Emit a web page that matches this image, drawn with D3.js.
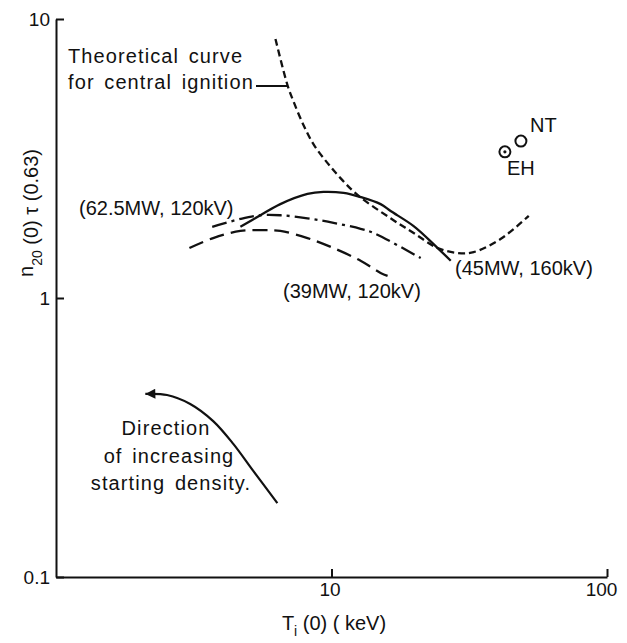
<!DOCTYPE html>
<html>
<head>
<meta charset="utf-8">
<script src="https://cdn.jsdelivr.net/npm/d3@7"></script>
<style>
  html, body { margin: 0; padding: 0; background: #fff; }
  svg { display: block; font-family: "Liberation Sans", Arial, sans-serif; }
  text { fill: #111; }
</style>
</head>
<body>
<svg id="chart" width="627" height="643"></svg>
<script>
// ---- data ----
const xTickValues = [10, 100];
const xTickLabels = ["10", "100"];
const yTickValues = [0.1, 1, 10];
const yTickLabels = ["0.1", "1", "10"];

// Theoretical curve for central ignition (short dashes)
const theoryT = [6.26, 6.92, 7.27, 7.91, 8.60, 9.66, 10.78, 12.43, 16.39, 19.87, 24.29, 28.7, 32.8, 41.2, 52.0];
const theoryN = [8.48, 5.80, 5.08, 4.17, 3.56, 3.05, 2.69, 2.34, 1.93, 1.71, 1.51, 1.45, 1.46, 1.63, 1.97];

// (45MW, 160kV) solid
const s45T = [4.67, 5.52, 6.52, 8.18, 9.35, 11.06, 12.75, 15.07, 16.39, 19.87, 24.29, 27.09];
const s45N = [1.80, 1.98, 2.17, 2.36, 2.40, 2.38, 2.30, 2.17, 2.05, 1.81, 1.51, 1.36];

// (62.5MW, 120kV) dash-dot
const s62T = [3.69, 4.67, 5.52, 6.52, 8.18, 10.17, 12.75, 14.22, 21.07];
const s62N = [1.80, 1.92, 1.98, 1.98, 1.93, 1.86, 1.77, 1.71, 1.39];

// (39MW, 120kV) long dashes
const s39T = [3.05, 3.72, 4.67, 5.66, 6.52, 8.18, 10.17, 12.75, 15.07, 15.98];
const s39N = [1.51, 1.64, 1.74, 1.75, 1.74, 1.64, 1.51, 1.36, 1.23, 1.20];

// Direction arrow (from start to tip)
const arrowT = [6.36, 5.20, 4.40, 3.72, 3.07, 2.53, 2.11];
const arrowN = [0.184, 0.240, 0.300, 0.362, 0.417, 0.449, 0.453];

// Experimental points
const pointNames = ["EH", "NT"];
const pointT = [42.6, 48.7];
const pointN = [3.34, 3.65];

// ---- layout ----
const svg = d3.select("#chart");
const margin = {left: 56, top: 19, right: 20, bottom: 66};
const W = 627, H = 643;
const x = d3.scaleLog().domain([1, 100]).range([margin.left, W - margin.right]);
const y = d3.scaleLog().domain([0.1, 10]).range([H - margin.bottom, margin.top]);

const ink = "#111";

// axes
const xAxis = d3.axisBottom(x).tickValues(xTickValues)
  .tickFormat((d, i) => xTickLabels[i]).tickSizeInner(-8).tickSizeOuter(0).tickPadding(6);
const yAxis = d3.axisLeft(y).tickValues(yTickValues)
  .tickFormat((d, i) => yTickLabels[i]).tickSizeInner(-8).tickSizeOuter(0).tickPadding(6);

const gx = svg.append("g").attr("transform", `translate(0,${y(0.1)})`).call(xAxis);
const gy = svg.append("g").attr("transform", `translate(${x(1)},0)`).call(yAxis);
[gx, gy].forEach(g => {
  g.select(".domain").attr("stroke", ink).attr("stroke-width", 2);
  g.selectAll(".tick line").attr("stroke", ink).attr("stroke-width", 2);
  g.selectAll(".tick text").attr("font-size", 19).attr("fill", ink)
    .attr("font-family", '"Liberation Sans", Arial, sans-serif');
});
gy.selectAll(".tick text").attr("dy", "0.36em");
gx.selectAll(".tick text").attr("dx", d => d === 100 ? -6 : -2);

// lines
const line = d3.line().x(d => x(d[0])).y(d => y(d[1])).curve(d3.curveCatmullRom.alpha(0.5));
const zip = (a, b) => a.map((v, i) => [v, b[i]]);

function drawCurve(T, N, dash) {
  svg.append("path").datum(zip(T, N))
    .attr("d", line).attr("fill", "none").attr("stroke", ink)
    .attr("stroke-width", 2.3).attr("stroke-dasharray", dash);
}
drawCurve(theoryT, theoryN, "7,4");
drawCurve(s45T, s45N, null);
drawCurve(s62T, s62N, "15,5,3,5");
drawCurve(s39T, s39N, "15,7");

// arrow
const defs = svg.append("defs");
defs.append("marker").attr("id", "ah").attr("viewBox", "0 0 10 10")
  .attr("refX", 10).attr("refY", 5).attr("markerUnits", "userSpaceOnUse")
  .attr("markerWidth", 19).attr("markerHeight", 10).attr("orient", "auto")
  .append("path").attr("d", "M0,0 L10,5 L0,10 z").attr("fill", ink);
svg.append("path").datum(zip(arrowT, arrowN))
  .attr("d", line).attr("fill", "none").attr("stroke", ink)
  .attr("stroke-width", 2.2).attr("marker-end", "url(#ah)");

// points
svg.append("circle").attr("cx", x(pointT[0])).attr("cy", y(pointN[0])).attr("r", 5.5)
  .attr("fill", "none").attr("stroke", ink).attr("stroke-width", 2);
svg.append("circle").attr("cx", x(pointT[0])).attr("cy", y(pointN[0])).attr("r", 1.6).attr("fill", ink);
svg.append("circle").attr("cx", x(pointT[1])).attr("cy", y(pointN[1])).attr("r", 5.5)
  .attr("fill", "none").attr("stroke", ink).attr("stroke-width", 2);

// text helper
function label(txt, px, py, anchor, spaced) {
  const t = svg.append("text").attr("x", px).attr("y", py)
    .attr("text-anchor", anchor || "start").attr("font-size", 20).text(txt);
  if (spaced) t.attr("letter-spacing", 1.1).attr("word-spacing", 3);
  return t;
}
label("Theoretical curve", 68, 63, "start", true);
label("for central ignition", 68, 89, "start", true);
svg.append("line").attr("x1", 256).attr("x2", 287).attr("y1", 86).attr("y2", 86)
  .attr("stroke", ink).attr("stroke-width", 2);
label("(62.5MW, 120kV)", 79, 215);
label("(39MW, 120kV)", 283, 298);
label("(45MW, 160kV)", 455, 275);
label(pointNames[1], 530, 132);
label(pointNames[0], 507, 175);
label("Direction", 166, 435, "middle", true);
label("of increasing", 169, 463, "middle", true);
label("starting density.", 171, 490, "middle", true);

// axis titles
const xt = svg.append("text").attr("x", 334).attr("y", 630).attr("text-anchor", "middle").attr("font-size", 20);
xt.append("tspan").text("T");
xt.append("tspan").attr("font-size", 14).attr("dy", 6).text("i");
xt.append("tspan").attr("dy", -6).text(" (0) ( keV)");

const yt = svg.append("text").attr("transform", "translate(38,213) rotate(-90)")
  .attr("text-anchor", "middle").attr("font-size", 20);
yt.append("tspan").attr("dy", -5).text("n");
yt.append("tspan").attr("font-size", 14).attr("dy", 9).text("20");
yt.append("tspan").attr("dy", -4).text(" (0) τ (0.63)");
</script>
</body>
</html>
